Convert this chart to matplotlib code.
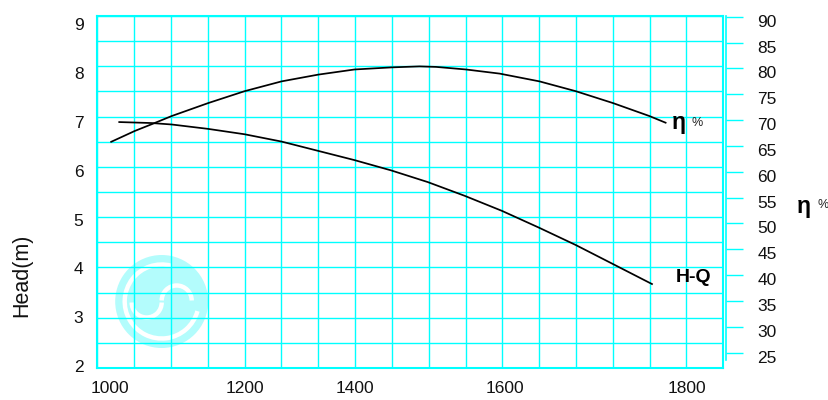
import numpy as np
import matplotlib
matplotlib.use("Agg")
import matplotlib.pyplot as plt
from matplotlib.patches import Circle, Arc
from matplotlib.transforms import ScaledTranslation

plt.rcParams['font.family'] = ['Liberation Sans', 'DejaVu Sans']

# pump curve
flow_ticks = [1000, 1200, 1400, 1600, 1800]
head_ticks = [2, 3, 4, 5, 6, 7, 8, 9]
eff_ticks = [25, 30, 35, 40, 45, 50, 55, 60, 65, 70, 75, 80, 85, 90]

hq_flow = [1014, 1062, 1092, 1146, 1200, 1267, 1333, 1399, 1448, 1497, 1546, 1596, 1637, 1678, 1719, 1762]
hq_head = [7.00, 6.98, 6.95, 6.86, 6.75, 6.60, 6.41, 6.22, 6.01, 5.77, 5.49, 5.18, 4.84, 4.48, 4.09, 3.68]

eff_flow = [1002, 1037, 1062, 1092, 1146, 1200, 1267, 1333, 1399, 1448, 1486, 1508, 1548, 1593, 1638, 1678, 1719, 1759, 1777]
eff_pct = [65.8, 67.9, 69.2, 70.8, 73.3, 75.6, 77.5, 78.8, 79.8, 80.2, 80.4, 80.3, 79.8, 79.0, 77.5, 75.6, 73.3, 70.8, 69.5]

CYAN = '#00ffff'
W, H = 829, 400

# the flow labels sit unevenly along the 17 grid columns
tick_col = [0.34, 4.0, 7.0, 11.07, 16.0]


def piecewise(x, xp, fp):
    x = np.asarray(x, dtype=float)
    y = np.interp(x, xp, fp)
    lo = (fp[1] - fp[0]) / (xp[1] - xp[0])
    hi = (fp[-1] - fp[-2]) / (xp[-1] - xp[-2])
    y = np.where(x < xp[0], fp[0] + (x - xp[0]) * lo, y)
    y = np.where(x > xp[-1], fp[-1] + (x - xp[-1]) * hi, y)
    return y


def fwd(q):
    return piecewise(q, flow_ticks, tick_col)


def inv(c):
    return piecewise(c, tick_col, flow_ticks)


fig = plt.figure(figsize=(W / 100, H / 100), dpi=100)
fig.patch.set_facecolor('white')
rect = [97.3 / W, 1 - 368 / H, 626 / W, 352 / H]

# watermark logo
ax_logo = fig.add_axes([0, 0, 1, 1], zorder=-1)
ax_logo.set_xlim(0, W)
ax_logo.set_ylim(0, H)
ax_logo.axis('off')
cx, cy = 161.7, H - 301.5
ax_logo.add_patch(Circle((cx, cy), 46.5, color='#b3fcfc', lw=0))
ax_logo.add_patch(Arc((cx, cy), 74, 74, theta1=75, theta2=345, color='white', lw=3.2))
ax_logo.add_patch(Arc((cx + 15, cy + 1), 30, 30, theta1=0, theta2=180, color='white', lw=3.2))
ax_logo.add_patch(Arc((cx - 15, cy - 1), 30, 30, theta1=180, theta2=360, color='white', lw=3.2))

# grid paper
ax_grid = fig.add_axes(rect, zorder=0)
ax_grid.set_facecolor('none')
ax_grid.set_xlim(0, 17)
ax_grid.set_ylim(0, 14)
ax_grid.set_xticks(range(18))
ax_grid.set_yticks(range(15))
ax_grid.grid(True, color=CYAN, lw=1.0)
ax_grid.tick_params(length=0, labelbottom=False, labelleft=False)
for s in ax_grid.spines.values():
    s.set_color(CYAN)
    s.set_linewidth(1.5)

# head axis
ax = fig.add_axes(rect, zorder=1)
ax.set_facecolor('none')
ax.set_xscale('function', functions=(fwd, inv))
ax.set_xlim(float(inv(0)), float(inv(17)))
ax.set_ylim(1.959, 9.174)
for s in ax.spines.values():
    s.set_visible(False)
ax.set_xticks(flow_ticks)
ax.set_xticklabels([str(v) for v in flow_ticks])
ax.xaxis.set_minor_locator(plt.NullLocator())
ax.set_yticks(head_ticks)
ax.set_yticklabels([str(v) for v in head_ticks])
ax.tick_params(axis='both', length=0, labelsize=12.5, colors='#111111')
ax.tick_params(axis='x', pad=9.5)
ax.tick_params(axis='y', pad=10)
ax.plot(hq_flow, hq_head, color='black', lw=1.25)

# efficiency axis
ax2 = ax.twinx()
ax2.set_facecolor('none')
ax2.set_ylim(22.03, 90.15)
for k, s in ax2.spines.items():
    s.set_visible(k == 'right')
ax2.spines['right'].set_position(('outward', 2))
ax2.spines['right'].set_color(CYAN)
ax2.spines['right'].set_linewidth(1.2)
ax2.spines['right'].set_bounds(23.6, 90.15)
ax2.set_yticks(eff_ticks)
ax2.set_yticklabels([str(v) for v in eff_ticks])
ax2.tick_params(axis='y', length=12.5, width=1.0, color=CYAN, pad=10,
                labelsize=12.5, labelcolor='#111111')
shift = ScaledTranslation(0, -4 / 100, fig.dpi_scale_trans)
for lab in ax2.get_yticklabels():
    lab.set_transform(lab.get_transform() + shift)
ax2.plot(eff_flow, eff_pct, color='black', lw=1.25)


def px(x, y):
    return x / W, 1 - y / H


fig.text(*px(22, 275), 'Head(m)', rotation=90, fontsize=15.5,
         ha='center', va='center', color='#111111')
fig.text(*px(672, 122.5), 'η', fontsize=16.5, fontweight='bold', ha='left', va='center')
fig.text(*px(692, 122.5), '%', fontsize=9, ha='left', va='center', color='#222222')
fig.text(*px(676, 277), 'H-Q', fontsize=14, fontweight='bold', ha='left', va='center')
fig.text(*px(797, 206), 'η', fontsize=16.5, fontweight='bold', ha='left', va='center')
fig.text(*px(818, 205), '%', fontsize=9, ha='left', va='center', color='#222222')

fig.savefig('out.png', dpi=100)
